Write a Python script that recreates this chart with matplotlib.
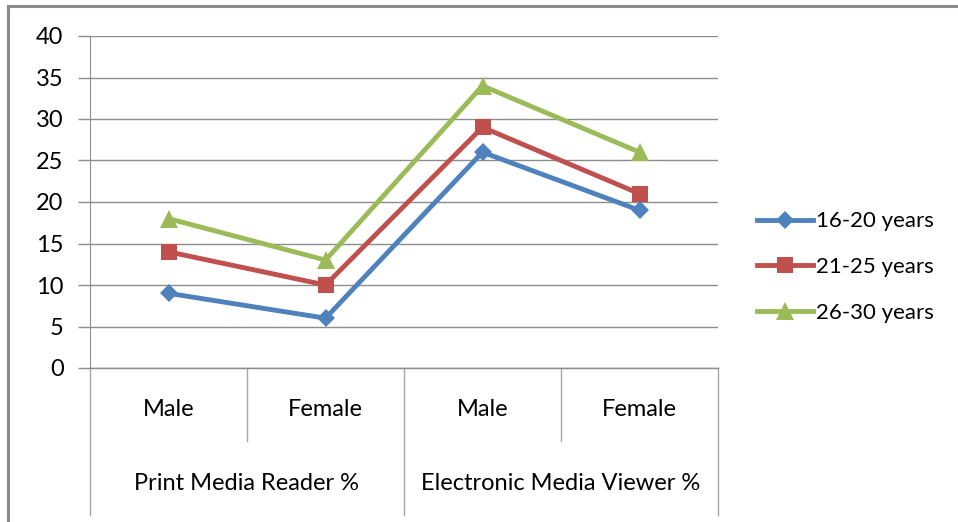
import matplotlib.pyplot as plt
from matplotlib.lines import Line2D

categories = ["Male", "Female", "Male", "Female"]
groups = ["Print Media Reader %", "Electronic Media Viewer %"]
series_names = ["16-20 years", "21-25 years", "26-30 years"]
age_16_20 = [9, 6, 26, 19]
age_21_25 = [14, 10, 29, 21]
age_26_30 = [18, 13, 34, 26]

plt.rcParams["font.family"] = ["Lato", "DejaVu Sans"]
FS = 17

W, H = 958, 522
fig = plt.figure(figsize=(W / 100, H / 100), dpi=100)

# outer chart border (cropped at right and bottom)
fig.add_artist(Line2D([8 / W, 1], [1 - 6 / H, 1 - 6 / H], color="#898989", lw=2.2))
fig.add_artist(Line2D([8 / W, 8 / W], [0, 1 - 6 / H], color="#898989", lw=2.2))

left, right, top, bottom = 90, 718, 36, 368
ax = fig.add_axes([left / W, 1 - bottom / H, (right - left) / W, (bottom - top) / H])

x = list(range(len(categories)))
styles = [
    (age_16_20, "#4F81BD", "D", 9),
    (age_21_25, "#C0504D", "s", 12),
    (age_26_30, "#9BBB59", "^", 13),
]
for (vals, color, marker, ms), name in zip(styles, series_names):
    ax.plot(x, vals, color=color, lw=3.5, marker=marker, markersize=ms,
            markeredgewidth=0, label=name)

ax.set_xlim(-0.5, 3.5)
ax.set_ylim(0, 40)
ax.set_yticks(range(0, 41, 5))
ax.yaxis.grid(True, color="#8c8c8c", lw=1)
ax.set_axisbelow(True)
for s in ["top", "right", "bottom"]:
    ax.spines[s].set_visible(False)
ax.spines["left"].set_color("#8c8c8c")
ax.tick_params(axis="y", length=9, width=1, color="#8c8c8c", labelsize=FS, pad=10)
ax.tick_params(axis="x", bottom=False, labelbottom=False)

# category axis: two-level labels with separators
tr = ax.get_xaxis_transform()
gray = "#a6a6a6"
sep_short = (bottom - 441) / (bottom - top)
sep_long = (bottom - 515) / (bottom - top)
for xs in [-0.5, 1.5, 3.5]:
    ax.plot([xs, xs], [0, sep_long], transform=tr, color=gray, lw=1, clip_on=False)
for xs in [0.5, 2.5]:
    ax.plot([xs, xs], [0, sep_short], transform=tr, color=gray, lw=1, clip_on=False)
ax.plot([-0.5, 3.5], [0, 0], transform=tr, color="#8c8c8c", lw=1, clip_on=False)

lab_y = (bottom - 410) / (bottom - top)
grp_y = (bottom - 484) / (bottom - top)
for xi, c in zip(x, categories):
    ax.text(xi, lab_y, c, transform=tr, ha="center", va="center", fontsize=FS)
for gi, g in enumerate(groups):
    ax.text(gi * 2 + 0.5, grp_y, g, transform=tr, ha="center", va="center", fontsize=FS)

fig.legend(loc="center left", bbox_to_anchor=(757 / W, 1 - 267 / H), frameon=False,
           fontsize=16, handlelength=2.5, handletextpad=0.15, labelspacing=1.15,
           borderaxespad=0, borderpad=0)

fig.savefig("out.png", dpi=100)
